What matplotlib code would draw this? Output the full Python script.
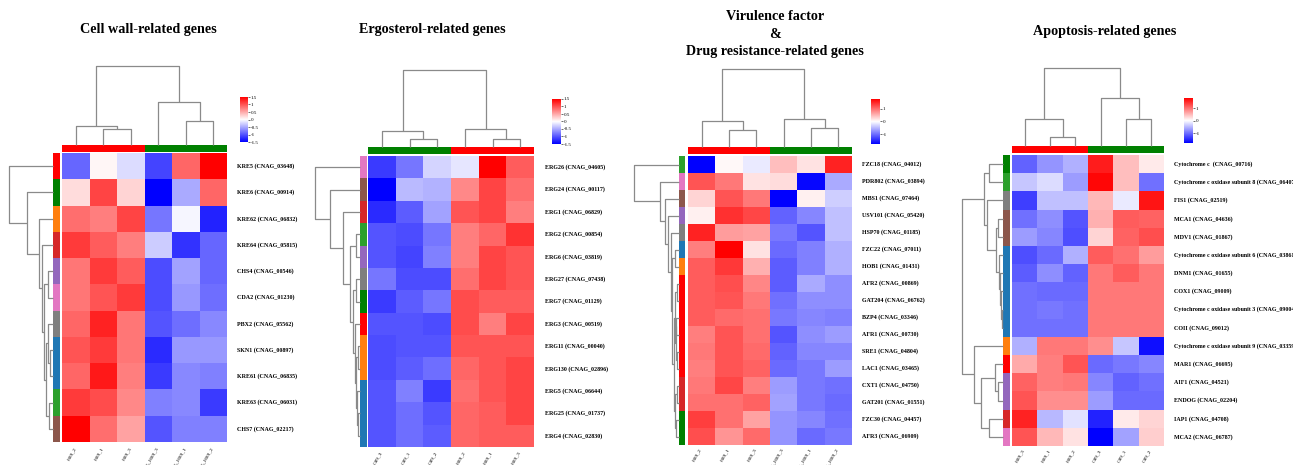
import numpy as np
import matplotlib
matplotlib.use("Agg")
import matplotlib.pyplot as plt
from matplotlib.colors import LinearSegmentedColormap, ListedColormap

plt.rcParams['font.family'] = ['Liberation Serif', 'DejaVu Serif']

# ---------------- DATA ----------------
# Panel 1: Cell wall-related genes
cw_genes = ["KRE5 (CNAG_03648)", "KRE6 (CNAG_00914)", "KRE62 (CNAG_06832)", "KRE64 (CNAG_05815)",
            "CHS4 (CNAG_00546)", "CDA2 (CNAG_01230)", "PBX2 (CNAG_05562)", "SKN1 (CNAG_00897)",
            "KRE61 (CNAG_06835)", "KRE63 (CNAG_06031)", "CHS7 (CNAG_02217)"]
cw_samples = ["H89_2", "H89_1", "H89_3", "L_H89_3", "L_H89_1", "L_H89_2"]
cw_values = [
    [-0.90, 0.05, -0.20, -1.10, 0.90, 1.50],
    [0.20, 1.10, 0.25, -1.50, -0.50, 0.90],
    [0.85, 0.75, 1.10, -0.80, -0.05, -1.30],
    [1.15, 0.95, 0.75, -0.30, -1.20, -0.90],
    [0.80, 1.15, 0.95, -1.05, -0.55, -0.90],
    [0.80, 1.00, 1.15, -1.05, -0.60, -0.85],
    [0.90, 1.30, 0.80, -1.00, -0.85, -0.70],
    [1.00, 1.15, 0.80, -1.25, -0.60, -0.60],
    [0.90, 1.35, 0.75, -1.15, -0.70, -0.75],
    [1.15, 1.05, 0.70, -0.75, -0.70, -1.15],
    [1.50, 0.85, 0.55, -1.00, -0.75, -0.75],
]
cw_row_colors = ["#FF0000", "#008000", "#FF7F0E", "#D62728", "#9467BD", "#E377C2",
                 "#7F7F7F", "#1F77B4", "#1F77B4", "#2CA02C", "#8C564B"]
cw_col_colors = ["#FF0000"] * 3 + ["#008000"] * 3
cw_col_tree = ((0, (1, 2, 0.20), 0.235), (3, (4, 5, 0.30), 0.54), 1.0)
cw_row_tree = (0, (1, (2, (3, ((4, 5, 0.12), ((6, (7, 8, 0.07), 0.12), (9, 10, 0.10), 0.16), 0.20), 0.24), 0.31), 0.60), 1.0)

# Panel 2: Ergosterol-related genes
erg_genes = ["ERG26 (CNAG_04605)", "ERG24 (CNAG_00117)", "ERG1 (CNAG_06829)", "ERG2 (CNAG_00854)",
             "ERG6 (CNAG_03819)", "ERG27 (CNAG_07438)", "ERG7 (CNAG_01129)", "ERG3 (CNAG_00519)",
             "ERG11 (CNAG_00040)", "ERG130 (CNAG_02896)", "ERG5 (CNAG_06644)", "ERG25 (CNAG_01737)",
             "ERG4 (CNAG_02830)"]
erg_samples = ["C89_3", "C89_1", "C89_2", "H89_2", "H89_1", "H89_3"]
erg_values = [
    [-1.15, -0.80, -0.25, -0.15, 1.50, 0.95],
    [-1.50, -0.40, -0.45, 0.70, 1.10, 0.85],
    [-1.25, -0.95, -0.55, 1.00, 1.10, 0.75],
    [-1.00, -1.05, -0.80, 0.75, 0.90, 1.20],
    [-1.00, -1.10, -0.75, 0.75, 1.10, 1.00],
    [-0.80, -1.05, -1.05, 0.85, 1.10, 1.00],
    [-1.15, -0.95, -0.80, 1.05, 0.95, 0.95],
    [-1.00, -1.00, -1.05, 1.05, 0.75, 1.10],
    [-1.05, -1.00, -1.00, 1.00, 1.00, 1.00],
    [-1.05, -0.95, -0.85, 0.90, 1.00, 1.10],
    [-1.00, -0.75, -1.15, 0.85, 1.00, 1.10],
    [-1.00, -0.85, -1.00, 0.90, 0.95, 1.10],
    [-1.00, -0.85, -0.95, 0.90, 0.95, 0.95],
]
erg_row_colors = ["#E377C2", "#8C564B", "#D62728", "#2CA02C", "#9467BD", "#7F7F7F", "#008000",
                  "#FF0000", "#FF7F0E", "#FF7F0E", "#1F77B4", "#1F77B4", "#1F77B4"]
erg_col_colors = ["#008000"] * 3 + ["#FF0000"] * 3
erg_col_tree = ((0, (1, 2, 0.10), 0.21), (3, (4, 5, 0.10), 0.24), 1.0)
erg_row_tree = (0, (1, (2, ((3, 4, 0.10), ((5, 6, 0.10), (7, ((8, 9, 0.05), (10, (11, 12, 0.04), 0.07), 0.09), 0.12), 0.16), 0.22), 0.385), 0.67), 1.0)

# Panel 3: Virulence factor & Drug resistance-related genes
vir_genes = ["FZC18 (CNAG_04012)", "PDR802 (CNAG_03894)", "MBS1 (CNAG_07464)", "USV101 (CNAG_05420)",
             "HSP70 (CNAG_01185)", "FZC22 (CNAG_07011)", "HOB1 (CNAG_01431)", "AFR2 (CNAG_00869)",
             "GAT204 (CNAG_06762)", "BZP4 (CNAG_03346)", "AFR1 (CNAG_00730)", "SRE1 (CNAG_04804)",
             "LAC1 (CNAG_03465)", "CXT1 (CNAG_04750)", "GAT201 (CNAG_01551)", "FZC30 (CNAG_04457)",
             "AFR3 (CNAG_06909)"]
vir_samples = ["H89_2", "H89_1", "H89_3", "L_H89_3", "L_H89_1", "L_H89_2"]
vir_values = [
    [-1.80, 0.05, -0.15, 0.45, 0.20, 1.55],
    [1.20, 0.95, 0.20, 0.25, -1.75, -0.60],
    [0.30, 1.20, 0.95, -1.80, 0.10, -0.35],
    [0.10, 1.45, 1.30, -1.10, -0.85, -0.45],
    [1.55, 0.70, 0.65, -0.95, -1.20, -0.45],
    [0.90, 1.80, 0.20, -1.05, -0.90, -0.55],
    [1.15, 1.40, 0.55, -1.15, -0.90, -0.55],
    [1.15, 1.25, 0.85, -1.15, -0.60, -0.80],
    [1.15, 1.20, 0.95, -1.00, -0.80, -0.80],
    [1.15, 1.05, 1.00, -0.95, -0.85, -0.90],
    [0.90, 1.20, 1.00, -1.20, -0.80, -0.70],
    [0.95, 1.20, 1.05, -1.10, -0.85, -0.85],
    [0.90, 1.20, 1.10, -1.05, -0.95, -0.70],
    [0.95, 1.30, 0.90, -0.70, -0.95, -1.00],
    [1.00, 1.00, 1.10, -0.65, -0.95, -1.05],
    [1.35, 1.00, 0.65, -0.75, -0.85, -1.00],
    [1.25, 0.75, 1.05, -0.75, -1.05, -0.95],
]
vir_row_colors = ["#2CA02C", "#E377C2", "#8C564B", "#9467BD", "#7F7F7F", "#1F77B4", "#FF7F0E",
                  "#FF0000", "#FF0000", "#FF0000", "#FF0000", "#FF0000", "#FF0000",
                  "#D62728", "#D62728", "#008000", "#008000"]
vir_col_colors = ["#FF0000"] * 3 + ["#008000"] * 3
vir_col_tree = ((0, (1, 2, 0.22), 0.33), (3, (4, 5, 0.24), 0.36), 1.0)
vir_row_tree = (0, (1, (2, (3, (4, ((5, 6, 0.10),
                ((((7, 8, 0.05), ((9, 10, 0.06), (11, 12, 0.04), 0.07), 0.08)),
                  ((13, 14, 0.05), (15, 16, 0.06), 0.09), 0.12), 0.15), 0.18), 0.24), 0.31), 0.42), 1.0)

# Panel 4: Apoptosis-related genes
apo_genes = ["Cytochrome c  (CNAG_00716)", "Cytochrome c oxidase subunit 8 (CNAG_06407)",
             "FIS1 (CNAG_02519)", "MCA1 (CNAG_04636)", "MDV1 (CNAG_01867)",
             "Cytochrome c oxidase subunit 6 (CNAG_03861)", "DNM1 (CNAG_01655)", "COX1 (CNAG_09009)",
             "Cytochrome c oxidase subunit 3 (CNAG_09004)", "COII (CNAG_09012)",
             "Cytochrome c oxidase subunit 9 (CNAG_03359)", "MAR1 (CNAG_06695)", "AIF1 (CNAG_04521)",
             "ENDOG (CNAG_02204)", "IAP1 (CNAG_04708)", "MCA2 (CNAG_06787)"]
apo_samples = ["H89_3", "H89_1", "H89_2", "C89_3", "C89_1", "C89_2"]
apo_values = [
    [-1.10, -0.75, -0.55, 1.60, 0.45, 0.15],
    [-0.40, -0.25, -0.70, 1.75, 0.45, -1.00],
    [-1.35, -0.45, -0.45, 0.50, -0.15, 1.65],
    [-1.00, -0.80, -1.20, 0.55, 1.15, 1.10],
    [-0.70, -0.85, -1.25, 0.30, 1.10, 1.25],
    [-1.25, -1.05, -0.55, 1.15, 1.00, 0.70],
    [-1.15, -0.80, -1.10, 0.95, 1.15, 0.95],
    [-1.00, -1.05, -1.05, 0.95, 0.95, 0.95],
    [-1.00, -0.95, -1.00, 0.95, 0.95, 0.95],
    [-1.00, -1.00, -1.00, 0.95, 0.95, 0.95],
    [-0.55, 0.95, 0.95, 0.80, -0.40, -1.70],
    [0.60, 0.90, 1.20, -1.05, -0.95, -0.85],
    [1.10, 0.90, 0.95, -0.85, -1.10, -1.00],
    [1.20, 0.80, 0.80, -0.70, -1.05, -1.05],
    [1.55, -0.50, -0.20, -1.55, 0.15, 0.30],
    [1.20, 0.50, 0.20, -1.80, -0.65, 0.35],
]
apo_row_colors = ["#008000", "#2CA02C", "#7F7F7F", "#8C564B", "#8C564B", "#1F77B4", "#1F77B4",
                  "#1F77B4", "#1F77B4", "#1F77B4", "#FF7F0E", "#FF0000", "#9467BD", "#9467BD",
                  "#D62728", "#E377C2"]
apo_col_colors = ["#FF0000"] * 3 + ["#008000"] * 3
apo_col_tree = ((0, (1, 2, 0.12), 0.35), (3, (4, 5, 0.35), 0.62), 1.0)
apo_row_tree = (((0, 1, 0.33), (2, ((3, 4, 0.11), (5, (6, (7, (8, 9, 0.02), 0.05), 0.07), 0.09), 0.16), 0.39), 0.46),
                (10, ((11, (12, 13, 0.12), 0.19), (14, 15, 0.34), 0.54), 0.71), 1.0)

# ---------------- DRAWING ----------------
W, H = 1293, 465
fig = plt.figure(figsize=(W / 100, H / 100), dpi=100)
cmap = LinearSegmentedColormap.from_list("bwr2", ["#0000FF", "#FFFFFF", "#FF0000"])
DCOL = "#8a8a8a"


def add_ax(x0, y0, x1, y1):
    ax = fig.add_axes([x0 / W, 1 - y1 / H, (x1 - x0) / W, (y1 - y0) / H])
    ax.set_axis_off()
    return ax


def draw_tree(ax, node, orient):
    if isinstance(node, int):
        return node + 0.5, 0.0
    l, r, h = node
    pl, hl = draw_tree(ax, l, orient)
    pr, hr = draw_tree(ax, r, orient)
    if orient == "top":
        ax.plot([pl, pl, pr, pr], [hl, h, h, hr], color=DCOL, lw=0.9, clip_on=False,
                solid_capstyle="butt")
    else:
        ax.plot([hl, h, h, hr], [pl, pl, pr, pr], color=DCOL, lw=0.9, clip_on=False,
                solid_capstyle="butt")
    return (pl + pr) / 2, h


def panel(genes, samples, values, row_colors, col_colors, col_tree, row_tree,
          hx0, hx1, hy0, hy1, cby0, cby1, rbx0, rbx1, rdx0, cdy0, cbx0, cbx1, cbary0, cbary1,
          vlim, cticks):
    vals = np.array(values)
    n, m = vals.shape
    # heatmap
    ax = add_ax(hx0, hy0, hx1, hy1)
    ax.pcolormesh(np.arange(m + 1), np.arange(n + 1), vals, cmap=cmap, vmin=-vlim, vmax=vlim)
    ax.set_xlim(0, m)
    ax.set_ylim(n, 0)
    for i, g in enumerate(genes):
        ax.text(m + 0.38, i + 0.5, g, fontsize=4.3, fontweight="bold", va="center", ha="left",
                clip_on=False)
    for j, s in enumerate(samples):
        ax.text(j + 0.55, n + 0.15, s, fontsize=3.9, rotation=60, ha="right", va="top",
                clip_on=False)
    # column colour bar
    axc = add_ax(hx0, cby0, hx1, cby1)
    axc.pcolormesh(np.arange(m + 1), [0, 1], np.arange(m)[None, :],
                   cmap=ListedColormap(col_colors), vmin=-0.5, vmax=m - 0.5)
    axc.set_xlim(0, m)
    # row colour bar
    axr = add_ax(rbx0, hy0, rbx1, hy1)
    axr.pcolormesh([0, 1], np.arange(n + 1), np.arange(n)[:, None],
                   cmap=ListedColormap(row_colors), vmin=-0.5, vmax=n - 0.5)
    axr.set_ylim(n, 0)
    # column dendrogram
    axd = add_ax(hx0, cdy0, hx1, cby0)
    draw_tree(axd, col_tree, "top")
    axd.set_xlim(0, m)
    axd.set_ylim(0, 1)
    # row dendrogram
    axrd = add_ax(rdx0, hy0, rbx0, hy1)
    draw_tree(axrd, row_tree, "left")
    axrd.set_ylim(n, 0)
    axrd.set_xlim(1, 0)
    # colour key
    cax = fig.add_axes([cbx0 / W, 1 - cbary1 / H, (cbx1 - cbx0) / W, (cbary1 - cbary0) / H])
    grad = np.linspace(-vlim, vlim, 256)[:, None]
    cax.imshow(grad, aspect="auto", cmap=cmap, vmin=-vlim, vmax=vlim, origin="lower",
               extent=[0, 1, -vlim, vlim])
    cax.set_xticks([])
    cax.yaxis.tick_right()
    cax.set_yticks(cticks)
    cax.set_yticklabels([("%g" % t) for t in cticks])
    cax.tick_params(axis="y", labelsize=3.6, length=1.2, width=0.4, pad=0.8)
    for sp in cax.spines.values():
        sp.set_visible(False)


panel(cw_genes, cw_samples, cw_values, cw_row_colors, cw_col_colors, cw_col_tree, cw_row_tree,
      62, 227, 153, 442, 145, 152, 53, 60, 9, 66, 240, 248, 97, 142,
      1.5, [1.5, 1, 0.5, 0, -0.5, -1, -1.5])
panel(erg_genes, erg_samples, erg_values, erg_row_colors, erg_col_colors, erg_col_tree, erg_row_tree,
      368, 534, 156, 447, 147, 154, 360, 367, 315, 70, 552, 561, 99, 144,
      1.5, [1.5, 1, 0.5, 0, -0.5, -1, -1.5])
panel(vir_genes, vir_samples, vir_values, vir_row_colors, vir_col_colors, vir_col_tree, vir_row_tree,
      688, 852, 156, 445, 147, 154, 679, 685, 634, 69, 871, 880, 99, 144,
      1.8, [1, 0, -1])
panel(apo_genes, apo_samples, apo_values, apo_row_colors, apo_col_colors, apo_col_tree, apo_row_tree,
      1012, 1164, 155, 446, 146, 153, 1003, 1010, 962, 68, 1184, 1193, 98, 143,
      1.8, [1, 0, -1])

# titles
tkw = dict(fontsize=10.2, fontweight="bold", ha="center", va="center")
fig.text(148 / W, 1 - 30 / H, "Cell wall-related genes", **tkw)
fig.text(432 / W, 1 - 30 / H, "Ergosterol-related genes", **tkw)
fig.text(775 / W, 1 - 17 / H, "Virulence factor", **tkw)
fig.text(775 / W, 1 - 35 / H, "&", **tkw)
fig.text(775 / W, 1 - 52 / H, "Drug resistance-related genes", **tkw)
fig.text(1105 / W, 1 - 32 / H, "Apoptosis-related genes", **tkw)

fig.savefig("out.png", dpi=100, facecolor="white")
